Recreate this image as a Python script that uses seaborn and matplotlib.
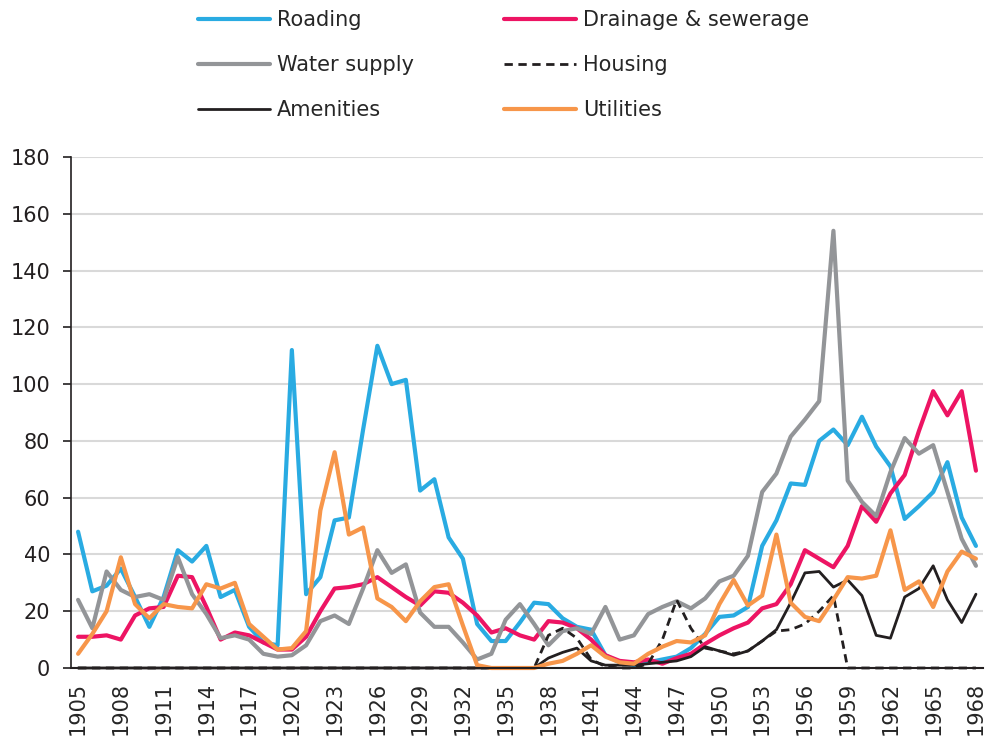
import matplotlib
matplotlib.use("Agg")
import matplotlib.pyplot as plt
import seaborn as sns
import pandas as pd

# --- data ---
years = list(range(1905, 1969))

roading = [48, 27, 29, 35, 25, 14.5, 25, 41.5, 37.5, 43,
           25, 27.5, 14.5, 9, 8, 112, 26, 32, 52, 53,
           84, 113.5, 100, 101.5, 62.5, 66.5, 46, 38.5, 15.5, 9.5,
           9.5, 16, 23, 22.5, 17.5, 14.5, 13.5, 4.5, 2, 1,
           2, 3, 4, 7, 12, 18, 18.5, 21.5, 43, 52,
           65, 64.5, 80, 84, 78.5, 88.5, 78, 71, 52.5, 57,
           62, 72.5, 53, 43]

drainage = [11, 11, 11.5, 10, 18.5, 21, 21.5, 32.5, 32, 21.5,
            10, 12.5, 11.5, 9, 6.5, 6.5, 11, 20, 28, 28.5,
            29.5, 32, 28.5, 25, 22, 27, 26.5, 23, 18.5, 12.5,
            14, 11.5, 10, 16.5, 16, 14, 10, 4.5, 2.5, 2,
            3, 1.5, 3.5, 5, 8.5, 11.5, 14, 16, 21, 22.5,
            29.5, 41.5, 38.5, 35.5, 43, 57, 51.5, 61.5, 68, 83.5,
            97.5, 89, 97.5, 69.5]

water = [24, 14, 34, 27.5, 25, 26, 24, 39, 26, 19,
         10.5, 11.5, 10, 5, 4, 4.5, 8, 16.5, 18.5, 15.5,
         28, 41.5, 33.5, 36.5, 19.5, 14.5, 14.5, 9, 3, 5,
         17, 22.5, 15.5, 8, 13, 14, 12, 21.5, 10, 11.5,
         19, 21.5, 23.5, 21, 24.5, 30.5, 32.5, 39.5, 62, 68.5,
         81.5, 87.5, 94, 154, 66, 58.5, 53.5, 69, 81, 75.5,
         78.5, 62, 45.5, 36]

housing = [0] * 33 + [11.5, 14, 10.5, 3, 0.5, 0, 0, 1.5, 10, 24,
                      14, 7, 6, 5, 6, 9.5, 13, 13.5, 15.5, 20,
                      25.5] + [0] * 10

amenities = [0] * 33 + [3.5, 5.5, 7, 2.5, 1, 1, 1, 1.5, 2, 2.5,
                        4, 7.5, 6, 4.5, 6, 9.5, 13.5, 23, 33.5, 34,
                        28.5, 31, 25.5, 11.5, 10.5, 25, 28, 36, 24, 16,
                        26]

utilities = [5, 12, 20, 39, 22.5, 17.5, 22.5, 21.5, 21, 29.5,
             28, 30, 15.5, 11, 6.5, 7, 13, 55.5, 76, 47,
             49.5, 24.5, 21.5, 16.5, 23.5, 28.5, 29.5, 15, 1, 0,
             0, 0, 0, 1.5, 2.5, 5, 8, 4, 2, 1.5,
             5, 7.5, 9.5, 9, 11.5, 22.5, 31, 22, 25.5, 47,
             23, 18, 16.5, 24, 32, 31.5, 32.5, 48.5, 27.5, 30.5,
             21.5, 34, 41, 38.5]

series = [
    ("Roading", roading, "#29abe2", "-", 3.0),
    ("Drainage & sewerage", drainage, "#ed1463", "-", 3.0),
    ("Water supply", water, "#939598", "-", 3.0),
    ("Housing", housing, "#231f20", (0, (3, 2)), 2.0),
    ("Amenities", amenities, "#231f20", "-", 2.0),
    ("Utilities", utilities, "#f7964a", "-", 3.0),
]

sns.set_style("white")
plt.rcParams["font.family"] = ["DejaVu Sans"]

fig = plt.figure(figsize=(9.91, 7.36), dpi=100)
ax = fig.add_axes([0.0716, 0.0924, 0.9204, 0.6943])

handles = {}
for name, vals, color, ls, lw in series:
    df = pd.DataFrame({"year": years, "value": vals})
    sns.lineplot(data=df, x="year", y="value", ax=ax, color=color,
                 linestyle=ls, linewidth=lw, label=name, clip_on=False)
    handles[name] = ax.get_lines()[-1]

ax.set_xlim(1904.5, 1968.5)
ax.set_ylim(0, 180)
ax.set_yticks(range(0, 181, 20))
ax.set_xticks(range(1905, 1969, 3))
ax.tick_params(axis="x", labelsize=15, rotation=90, length=0, pad=10)
ax.tick_params(axis="y", labelsize=15, length=6, width=1.2, direction="out",
               left=True, pad=9, colors="#231f20")
ax.set_xlabel("")
ax.set_ylabel("")
ax.grid(axis="y", color="#d9d9d9", linewidth=1.5)
ax.set_axisbelow(True)
for s in ["top", "right"]:
    ax.spines[s].set_visible(False)
ax.spines["left"].set_color("#231f20")
ax.spines["left"].set_linewidth(1.2)
ax.spines["bottom"].set_color("#231f20")
ax.spines["bottom"].set_linewidth(1.5)

ax.get_legend().remove()
order = ["Roading", "Water supply", "Amenities",
         "Drainage & sewerage", "Housing", "Utilities"]
fig.legend([handles[n] for n in order], order, ncol=2, loc="upper left",
           bbox_to_anchor=(0.181, 1.012), frameon=False, fontsize=15,
           handlelength=3.45, handletextpad=0.35, columnspacing=4.3,
           labelspacing=1.2)

fig.savefig("out.png", dpi=100)
